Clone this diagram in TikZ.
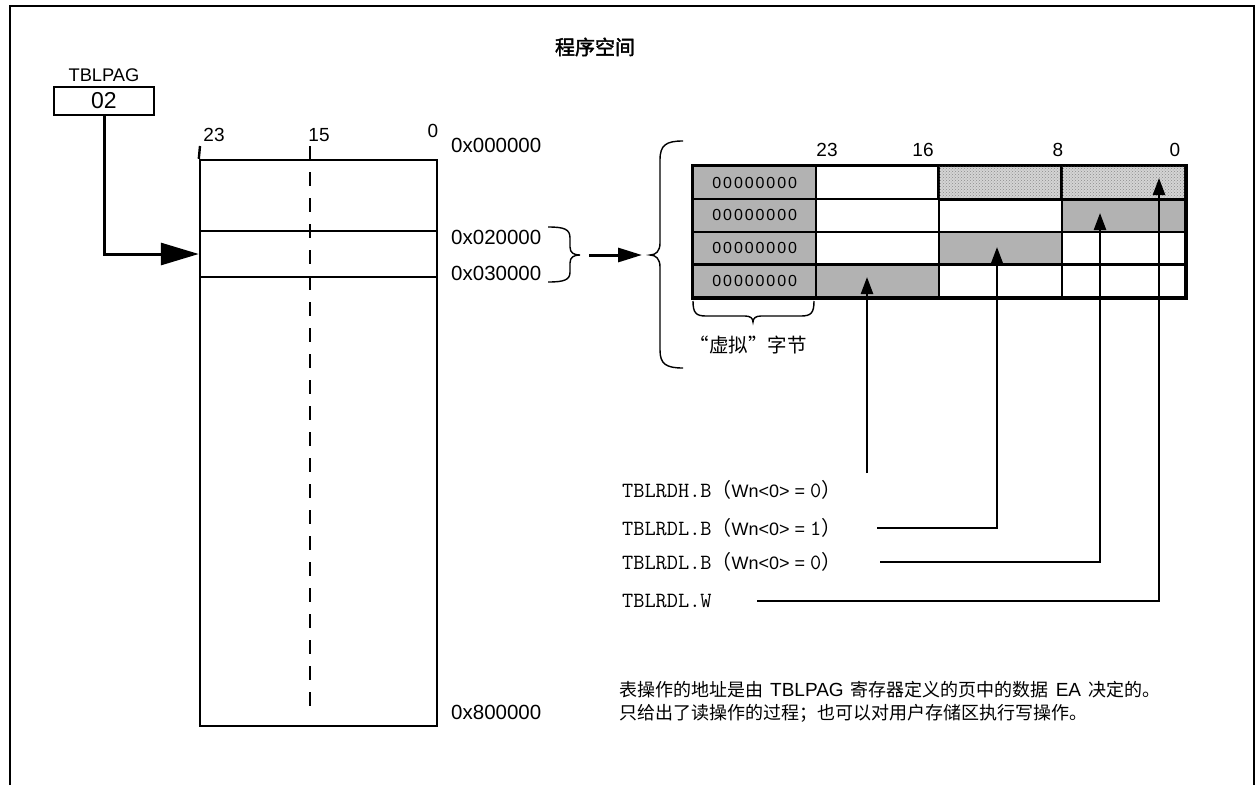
\documentclass[tikz,border=0pt]{standalone}
\usepackage{fontspec}
\setmainfont{Liberation Sans}
\newfontfamily\cjk{Noto Sans CJK SC}
\newfontfamily\cjkbold[FakeBold=2]{Noto Sans CJK SC}
\newfontfamily\digitsf[LetterSpace=12]{Liberation Sans}
\usetikzlibrary{arrows.meta,patterns}
\newcommand\monotxt{\ttfamily\fontsize{21.7}{24}\selectfont}
\newcommand\optxt[2]{{\monotxt #1}{\cjk\fontsize{20}{22}\selectfont （}{\fontsize{18}{22}\selectfont Wn<0> = }{\monotxt #2}{\cjk\fontsize{20}{22}\selectfont ）}}
\newcommand\latinword[1]{{\rmfamily\fontsize{19}{23}\selectfont\hspace{7pt}#1\hspace{7pt}}}
\begin{document}
\begin{tikzpicture}[x=1pt,y=-1pt,
  frame/.style={line width=2.8pt},
  thick2/.style={line width=2.4pt},
  box/.style={draw, line width=2.4pt, inner sep=0pt},
  hexlbl/.style={anchor=west, inner sep=0pt, font=\fontsize{20.5}{24}\selectfont},
  bitlbl/.style={inner sep=0pt, font=\fontsize{19}{22}\selectfont},
  cell/.style={draw, line width=2.4pt, minimum width=123pt, minimum height=32.75pt, inner sep=0pt, anchor=north west},
  graycell/.style={cell, fill=black!30},
  hatchcell/.style={cell, fill=black!17, postaction={pattern=crosshatch dots, pattern color=black!45}},
  dummy/.style={graycell, font=\digitsf\fontsize{16}{18}\selectfont},
  brace/.style={line width=1.4pt},
  bigarrow/.style={line width=3pt, -{Triangle[length=38pt,width=22pt]}},
  midarrow/.style={line width=3pt, -{Triangle[length=24pt,width=14pt]}},
  uparrow/.style={line width=2.4pt, -{Triangle[length=17pt,width=12pt]}},
  optext/.style={anchor=west, inner sep=2pt},
  dashline/.style={line width=2.4pt, dash pattern=on 14pt off 12pt}
]
\useasboundingbox (0,0) rectangle (1260,785);
\fill[white] (0,0) rectangle (1260,785);
\draw[frame] (10,785) -- (10,6) -- (1254,6) -- (1254,785);

\node[font=\cjkbold\fontsize{20}{24}\selectfont] (title) at (595,47) {程序空间};

% TBLPAG register
\node[inner sep=0pt, font=\fontsize{18.3}{22}\selectfont] (tplabel) at (104,75) {TBLPAG};
\node[box, minimum width=100pt, minimum height=28pt, font=\fontsize{23}{26}\selectfont] (tblpag) at (104,101) {02};

% program memory column
\node[box, minimum width=237pt, minimum height=566pt] (mem) at (318.5,443) {};
\node[box, minimum width=237pt, minimum height=46pt] (page) at (318.5,254) {};
\coordinate (memtick) at (200,146);
\draw[thick2] (memtick) -- (mem.north west);
\coordinate (dtop) at (310,146);
\coordinate (dbot) at (310,712);
\draw[dashline] (dtop) -- (dbot);

\node[bitlbl] (b23) at (214,135) {23};
\node[bitlbl] (b15) at (319,135) {15};
\node[bitlbl] (b0) at (433,131) {0};
\node[hexlbl] (h0) at (451,145) {0x000000};
\node[hexlbl] (h2) at (451,237) {0x020000};
\node[hexlbl] (h3) at (451,273) {0x030000};
\node[hexlbl] (h8) at (451,712) {0x800000};

\draw[bigarrow] (tblpag.south) |- (page.west);

% small brace
\coordinate (sbtip) at (580,255);
\draw[brace] (548,227) .. controls (564,227) and (570,229) .. (570,238) -- (570,247)
  .. controls (570,253) and (574,255) .. (sbtip)
  .. controls (574,255) and (570,257) .. (570,263) -- (570,272)
  .. controls (570,280) and (564,282) .. (548,282);

% big brace
\coordinate (bbtip) at (650,255);
\draw[brace] (683,141) .. controls (666,141) and (660,145) .. (660,160) -- (660,243)
  .. controls (660,251) and (656,255) .. (bbtip)
  .. controls (656,255) and (660,259) .. (660,267) -- (660,350)
  .. controls (660,364) and (666,368) .. (683,368);

\draw[midarrow, shorten <=9pt, shorten >=8pt] (sbtip) -- (bbtip);

% table
\node[dummy] (c10) at (692,165) {00000000};
\node[cell] (c11) at (815,165) {};
\node[hatchcell] (c12) at (938,165) {};
\node[hatchcell] (c13) at (1061,165) {};
\node[dummy] (c20) at (692,197.75) {00000000};
\node[cell] (c21) at (815,197.75) {};
\node[cell] (c22) at (938,197.75) {};
\node[graycell] (c23) at (1061,197.75) {};
\node[dummy] (c30) at (692,230.5) {00000000};
\node[cell] (c31) at (815,230.5) {};
\node[graycell] (c32) at (938,230.5) {};
\node[cell] (c33) at (1061,230.5) {};
\node[dummy] (c40) at (692,263.25) {00000000};
\node[graycell] (c41) at (815,263.25) {};
\node[cell] (c42) at (938,263.25) {};
\node[cell] (c43) at (1061,263.25) {};
\draw[thick2] (c10.north west) rectangle (c43.south east);
\draw[thick2] (c12.north west) -- (c12.south west) (c13.north west) -- (c13.south west) (c12.south west) -- (c13.south east);

\node[bitlbl] (t23) at (827,150) {23};
\node[bitlbl] (t16) at (923,150) {16};
\node[bitlbl] (t8) at (1058,150) {8};
\node[bitlbl] (t0) at (1175,150) {0};

% dummy-byte brace
\coordinate (vbtip) at (753,322);
\draw[brace] (693,301) .. controls (693,313) and (696,316) .. (706,316) -- (745,316)
  .. controls (750,316) and (753,318) .. (vbtip)
  .. controls (753,318) and (756,316) .. (761,316) -- (801,316)
  .. controls (811,316) and (814,313) .. (814,301);
\node[font=\cjk\fontsize{19.5}{22}\selectfont, inner sep=0pt] (vlabel) at (748,345) {“虚拟”字节};

% instruction labels
\node[optext] (rdh) at (620,490) {\optxt{TBLRDH.B}{0}};
\node[optext] (rdl1) at (620,528) {\optxt{TBLRDL.B}{1}};
\node[optext] (rdl0) at (620,562) {\optxt{TBLRDL.B}{0}};
\node[optext] (rdw) at (620,601) {{\monotxt TBLRDL.W}};

\coordinate (t1) at (867,277);
\coordinate (t2) at (997,247);
\coordinate (t3) at (1100,213);
\coordinate (t4) at (1159,178);
\coordinate (s1) at (867,473);
\coordinate (s2) at (877,528);
\coordinate (s3) at (880,562);
\coordinate (s4) at (757,601);

\draw[uparrow] (s1) -- (t1);
\draw[uparrow] (s2) -| (t2);
\draw[uparrow] (s3) -| (t3);
\draw[uparrow] (s4) -| (t4);

% note
\node[anchor=west, inner sep=0pt, align=left, font=\cjk\fontsize{18}{23}\selectfont] (note) at (619,702)
  {表操作的地址是由\latinword{TBLPAG}寄存器定义的页中的数据\latinword{EA}决定的。\\只给出了读操作的过程；也可以对用户存储区执行写操作。};
\end{tikzpicture}
\end{document}
